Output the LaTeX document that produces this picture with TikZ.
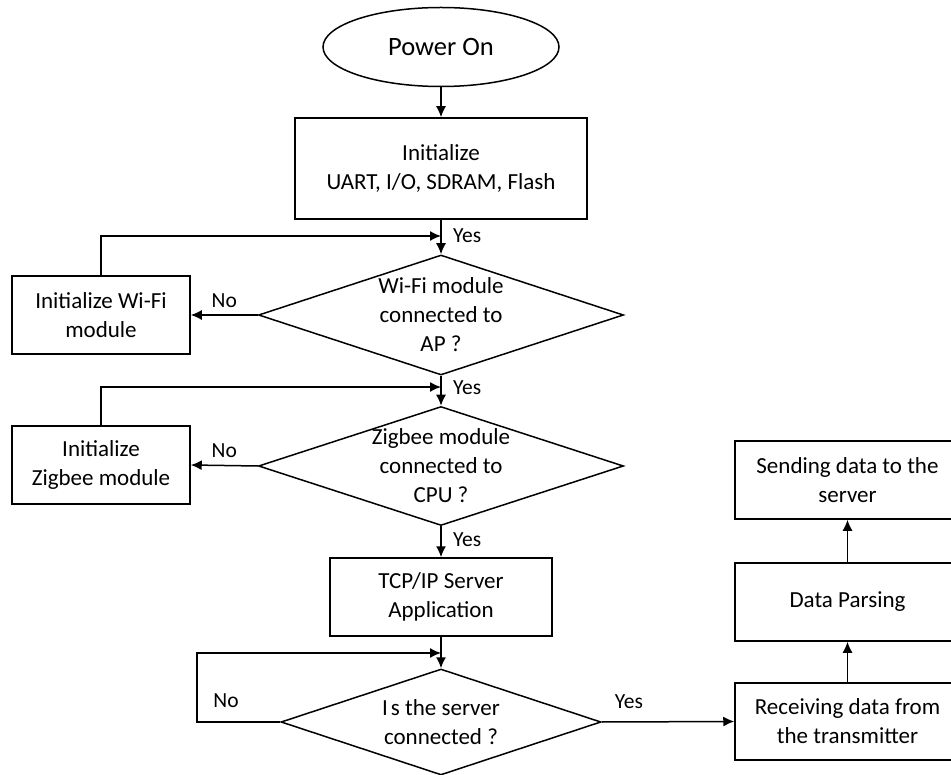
\documentclass[tikz,border=0pt]{standalone}
\usepackage{fontspec}
\setmainfont{Carlito}
\usetikzlibrary{shapes.geometric,arrows.meta}
\begin{document}
\begin{tikzpicture}[x=1pt,y=-1pt,
  every node/.style={font=\fontsize{23}{29}\selectfont, text=black},
  box/.style={draw, rectangle, line width=1.5pt, inner sep=0pt, align=center},
  decision/.style={draw, diamond, line width=1.5pt, inner sep=0pt},
  dtext/.style={align=center, inner sep=0pt},
  lbl/.style={font=\fontsize{21.5}{25}\selectfont, inner sep=2pt},
  arr/.style={line width=1.5pt, -{Latex[length=11pt,width=10pt]}}]

\useasboundingbox (0,0) rectangle (951,775);
\clip (0,0) rectangle (951,775);
\fill[white] (0,0) rectangle (951,775);

% main column
\node[draw, ellipse, line width=1.5pt, minimum width=236pt, minimum height=79pt,
      inner sep=0pt, font=\fontsize{26.5}{32}\selectfont] (pwr) at (441,47) {Power On};
\node[box, minimum width=292pt, minimum height=101pt] (init) at (441,168.5)
      {Initialize\\UART, I/O, SDRAM, Flash};
\node[decision, minimum width=365pt, minimum height=120pt] (d1) at (441,315) {};
\node[dtext] (d1t) at (d1.center) {Wi-Fi module\\connected to\\AP ?};
\node[decision, minimum width=365pt, minimum height=119pt] (d2) at (441,466) {};
\node[dtext] (d2t) at (d2.center) {Zigbee module\\connected to\\CPU ?};
\node[box, minimum width=222pt, minimum height=78pt] (tcp) at (441,597)
      {TCP/IP Server\\Application};
\node[decision, minimum width=320pt, minimum height=106pt] (d3) at (441,722) {};
\node[dtext] (d3t) at (d3.center) {I\kern3pt s the server\\connected ?};

% left column
\node[box, minimum width=178pt, minimum height=78pt] (wifi) at (101,315)
      {Initialize Wi-Fi\\module};
\node[box, minimum width=178pt, minimum height=78pt] (zig) at (101,465)
      {Initialize\\Zigbee module};

% right column
\node[box, minimum width=225pt, minimum height=77pt] (recv) at (847.5,721.5)
      {Receiving data from\\the transmitter};
\node[box, minimum width=225pt, minimum height=78pt] (parse) at (847.5,602)
      {Data Parsing};
\node[box, minimum width=225pt, minimum height=78pt] (send) at (847.5,480)
      {Sending data to the\\server};

% junctions of the retry loops
\coordinate (j1) at (441,236);
\coordinate (j2) at (441,387);
\coordinate (j3) at (441,653);
\coordinate (c3) at (197,722);

% connectors
\draw[arr] (pwr.south) -- (init.north);
\draw[arr] (init.south) -- (d1.north);
\draw[arr] (wifi.north) |- (j1);
\draw[arr] (d1.west) -- node[lbl, above=5pt] (no1) {No} (wifi.east);

\draw[arr] (d1.south) -- (d2.north);
\draw[arr] (zig.north) |- (j2);
\draw[arr] (d2.west) -- node[lbl, above=5pt] (no2) {No} (zig.east);

\draw[arr] (d2.south) -- (tcp.north);
\draw[arr] (tcp.south) -- (d3.north);
\draw[arr] (d3.west) -- (c3) |- (j3);

\draw[arr] (d3.east) -- (recv.west);
\draw[arr] (recv.north) -- (parse.south);
\draw[arr] (parse.north) -- (send.south);

% branch labels
\node[lbl, anchor=west] (yes1) at (451,236) {Yes};
\node[lbl, anchor=west] (yes2) at (451,388) {Yes};
\node[lbl, anchor=west] (yes3) at (451,540) {Yes};
\node[lbl] (yes4) at (629,702) {Yes};
\node[lbl] (no3) at (226,701) {No};
\end{tikzpicture}
\end{document}
